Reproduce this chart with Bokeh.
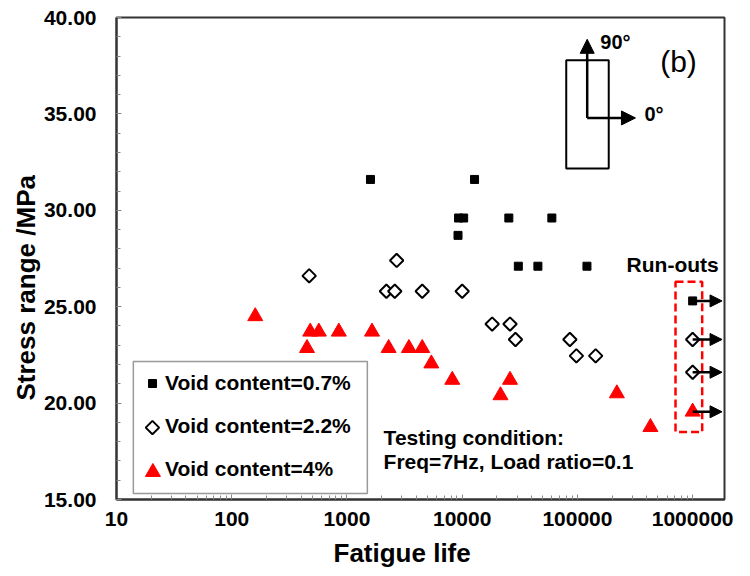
import numpy as np
from bokeh.plotting import figure
from bokeh.models import (ColumnDataSource, FixedTicker, PrintfTickFormatter, Legend, LegendItem,
                          Title, Arrow, NormalHead)
from bokeh.core.properties import value
from bokeh.embed import file_html
from bokeh.resources import INLINE

# ---- data ----
life_07 = [1600, 12800, 9300, 10300, 25400, 60000, 9200, 30700, 45400, 121000, 1000000]
stress_07 = [31.6, 31.6, 29.6, 29.6, 29.6, 29.6, 28.7, 27.1, 27.1, 27.1, 25.3]

life_22 = [470, 2700, 2200, 2600, 4500, 10000, 18200, 26000, 29000, 86000, 98000, 144000, 1000000, 1000000]
stress_22 = [26.6, 27.4, 25.8, 25.8, 25.8, 25.8, 24.1, 24.1, 23.3, 23.3, 22.45, 22.45, 23.3, 21.6]

life_4 = [160, 450, 480, 570, 850, 1650, 2300, 3450, 4500, 5400, 8200, 26000, 21500, 220000, 430000, 1000000]
stress_4 = [24.5, 22.85, 23.7, 23.7, 23.7, 23.7, 22.85, 22.85, 22.85, 22.05, 21.2, 21.2, 20.4, 20.5, 18.75, 19.55]

series_labels = ["Void content=0.7%", "Void content=2.2%", "Void content=4%"]
x_ticks = [10, 100, 1000, 10000, 100000, 1000000]
y_ticks = [15, 20, 25, 30, 35, 40]
runout_life = 1000000

FONT = "Liberation Sans"
INK = "#000000"

p = figure(width=750, height=576, x_axis_type="log", x_range=(10, 1.89e6), y_range=(15, 40),
           output_backend="svg", toolbar_location=None,
           min_border_left=116, min_border_right=26, min_border_top=17, min_border_bottom=77)
p.xgrid.visible = False
p.ygrid.visible = False
p.outline_line_color = "#333333"
p.outline_line_width = 2

minor_x = [m * d for d in x_ticks[:-1] for m in range(2, 10)]
p.xaxis.ticker = FixedTicker(ticks=x_ticks, minor_ticks=minor_x)
p.xaxis.formatter = PrintfTickFormatter(format="%d")
p.yaxis.ticker = FixedTicker(ticks=y_ticks, minor_ticks=list(range(15, 41)))
p.yaxis.formatter = PrintfTickFormatter(format="%.2f")
for ax in (p.xaxis, p.yaxis):
    ax.major_tick_in = 5
    ax.major_tick_out = 0
    ax.minor_tick_in = 4
    ax.minor_tick_out = 0
    ax.axis_line_color = "#333333"
    ax.axis_line_width = 2
    ax.major_tick_line_color = "#888888"
    ax.minor_tick_line_color = "#888888"
    ax.major_label_text_font = FONT
    ax.major_label_text_font_style = "bold"
    ax.major_label_text_font_size = "21px"
    ax.major_label_text_color = INK
p.xaxis.major_label_standoff = 12
p.yaxis.major_label_standoff = 20

p.add_layout(Title(text="Fatigue life", align="left", offset=217, text_font=FONT, text_color=INK,
                   text_font_style="bold", text_font_size="26px", standoff=14), "below")
p.add_layout(Title(text="Stress range /MPa", align="left", offset=99, text_font=FONT, text_color=INK,
                   text_font_style="bold", text_font_size="26px", standoff=0), "left")

# legend frame (drawn first, under everything)
p.quad(left=[14.0], right=[1503], bottom=[15.31], top=[22.16], fill_color="white",
       line_color="#999999", line_width=1.5)

# ---- series ----
sq_style = dict(marker="square", size=8, fill_color="black", line_color="black")
dm_style = dict(marker="square", angle=np.pi / 4, size=9.5, fill_color="white", line_color="black", line_width=2)
tr_style = dict(marker="triangle", size=15, fill_color="#ff0000", line_color="#ff0000")

r07 = p.scatter(life_07, stress_07, **sq_style)
r22 = p.scatter(life_22, stress_22, **dm_style)
r4 = p.scatter(life_4, stress_4, **tr_style)

# run-out arrows
ro_y = [y for x, y in zip(life_07 + life_22 + life_4, stress_07 + stress_22 + stress_4) if x >= runout_life]
ro_src = ColumnDataSource(dict(xs=[runout_life] * len(ro_y), ys=ro_y, xe=[1.8e6] * len(ro_y)))
p.add_layout(Arrow(source=ro_src, x_start="xs", y_start="ys", x_end="xe", y_end="ys",
                   line_width=2.5, line_color="black",
                   end=NormalHead(size=12, fill_color="black", line_color="black")))

# run-out dashed box
p.quad(left=[7.1e5], right=[1.21e6], bottom=[18.5], top=[26.29], fill_alpha=0,
       line_color="#ff0000", line_dash="8 4", line_width=2.5)

# orientation sketch
p.quad(left=[80000], right=[187000], bottom=[32.17], top=[37.78], fill_alpha=0,
       line_color="black", line_width=2)
p.add_layout(Arrow(x_start=121600, y_start=34.79, x_end=121600, y_end=38.87, line_width=2.5,
                   end=NormalHead(size=14, fill_color="black", line_color="black")))
p.add_layout(Arrow(x_start=121600, y_start=34.79, x_end=319000, y_end=34.79, line_width=2.5,
                   end=NormalHead(size=14, fill_color="black", line_color="black")))

def txt(x, y, s, size, bold=True, align="left"):
    p.text(x=[x], y=[y], text=[s], text_font=value(FONT), text_font_size=size,
           text_font_style="bold" if bold else "normal", text_baseline="middle",
           text_align=align, text_color=INK)

txt(158000, 38.75, "90°", "20px")
txt(382000, 35.0, "0°", "20px")
txt(754000, 37.7, "(b)", "30px", bold=False, align="center")
txt(267000, 27.19, "Run-outs", "21px")
txt(2080, 18.23, "Testing condition:", "21px")
txt(2080, 16.98, "Freq=7Hz, Load ratio=0.1", "21px")

# legend: swatches for rows 2 and 3 are drawn as glyphs (legend cannot rotate / resize them per row)
swatch_x = [20.5, 20.7]
swatch_y = [18.73, 16.42]
p.scatter(swatch_x[:1], swatch_y[:1], **dm_style)
p.scatter(swatch_x[1:], swatch_y[1:], **tr_style)
blank = p.scatter([], [], marker="square", fill_alpha=0, line_alpha=0)

legend = Legend(items=[LegendItem(label=series_labels[0], renderers=[r07]),
                       LegendItem(label=series_labels[1], renderers=[blank]),
                       LegendItem(label=series_labels[2], renderers=[blank])],
                location=(26, 17), border_line_color=None, background_fill_alpha=0,
                label_text_font=FONT, label_text_font_style="bold",
                label_text_font_size="21px", label_text_color=INK,
                glyph_width=20, glyph_height=26, label_height=26, spacing=17,
                padding=0, margin=0, label_standoff=3)
p.add_layout(legend)

open("out.html", "w").write(file_html(p, INLINE))
